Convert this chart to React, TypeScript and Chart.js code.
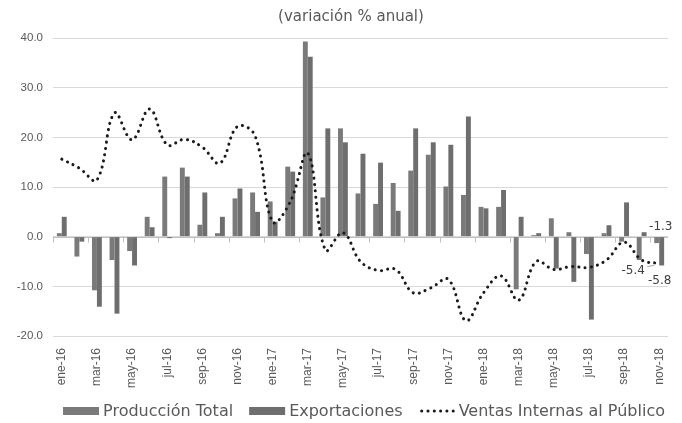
import React, { useEffect, useRef } from 'react';
import { Chart, registerables } from 'chart.js';

Chart.register(...registerables);

const categories = [
  'ene-16', 'feb-16', 'mar-16', 'abr-16', 'may-16', 'jun-16', 'jul-16', 'ago-16', 'sep-16', 'oct-16', 'nov-16', 'dic-16',
  'ene-17', 'feb-17', 'mar-17', 'abr-17', 'may-17', 'jun-17', 'jul-17', 'ago-17', 'sep-17', 'oct-17', 'nov-17', 'dic-17',
  'ene-18', 'feb-18', 'mar-18', 'abr-18', 'may-18', 'jun-18', 'jul-18', 'ago-18', 'sep-18', 'oct-18', 'nov-18',
];

const produccionTotal = [
  0.7, -4.0, -10.8, -4.7, -2.9, 4.0, 12.1, 13.9, 2.4, 0.7, 7.7, 8.9,
  7.1, 14.1, 39.3, 7.9, 21.8, 8.7, 6.6, 10.8, 13.3, 16.5, 10.1, 8.4,
  6.0, 6.0, -10.6, 0.3, 3.7, 0.9, -3.5, 0.7, -1.0, -4.7, -1.3,
];

const exportaciones = [
  4.0, -1.0, -14.1, -15.5, -5.8, 1.9, -0.3, 12.1, 8.9, 4.0, 9.7, 5.0,
  3.0, 13.1, 36.2, 21.8, 19.0, 16.7, 14.9, 5.2, 21.8, 19.0, 18.5, 24.2,
  5.7, 9.4, 4.0, 0.7, -6.4, -9.1, -16.7, 2.3, 6.9, 0.9, -5.8,
];

const ventasInternas = [
  15.6, 13.8, 11.4, 24.9, 19.5, 25.7, 18.5, 19.6, 18.0, 14.8, 22.2, 20.3,
  3.0, 7.0, 16.8, -2.7, 0.8, -5.0, -6.8, -6.6, -11.3, -10.3, -8.6, -16.9,
  -11.3, -7.9, -12.8, -5.0, -6.6, -6.0, -6.2, -4.7, -1.1, -4.7, -5.4,
];

const yMin = -20;
const yMax = 40;
const yStep = 10;

const seriesNames = ['Producción Total', 'Exportaciones', 'Ventas Internas al Público'];
const chartTitle = '(variación % anual)';

// labelled points: [dataset index, category index]
const labelledPoints = [
  [0, 34],
  [2, 34],
  [1, 34],
];

const FONT = '"DejaVu Sans", sans-serif';
const TICK_FONT = '"Liberation Sans", Arial, sans-serif';

const zeroLinePlugin = {
  id: 'zeroLine',
  beforeDatasetsDraw(chart: any) {
    const { ctx, chartArea, scales } = chart;
    const y0 = Math.round(scales.y.getPixelForValue(0)) + 0.5;
    const xs = scales.x;
    const half = (xs.getPixelForValue(1) - xs.getPixelForValue(0)) / 2;
    ctx.save();
    ctx.strokeStyle = '#bfbfbf';
    ctx.lineWidth = 1;
    ctx.beginPath();
    ctx.moveTo(chartArea.left, y0);
    ctx.lineTo(chartArea.right, y0);
    for (let i = 0; i <= categories.length; i += 2) {
      const x = Math.round(xs.getPixelForValue(i) - half) + 0.5;
      ctx.moveTo(x, y0);
      ctx.lineTo(x, y0 + 5);
    }
    ctx.stroke();
    ctx.restore();
  },
};

const titlePlugin = {
  id: 'customTitle',
  afterDraw(chart: any) {
    const { ctx } = chart;
    ctx.save();
    ctx.font = `15px ${FONT}`;
    ctx.fillStyle = '#595959';
    ctx.textAlign = 'center';
    ctx.textBaseline = 'middle';
    ctx.fillText(chartTitle, 351, 17);
    ctx.restore();
  },
};

const legendPlugin = {
  id: 'customLegend',
  afterDraw(chart: any) {
    const { ctx } = chart;
    const datasets = chart.data.datasets;
    ctx.save();
    ctx.font = `16px ${FONT}`;
    const boxW = 36;
    const gapBT = 4;
    const gapItems = 16;
    const widths = datasets.map((d: any) => ctx.measureText(d.label).width);
    const total = widths.reduce((a: number, w: number) => a + boxW + gapBT + w, 0) + gapItems * (datasets.length - 1);
    let x = 364 - total / 2;
    const y = 411;
    datasets.forEach((d: any, i: number) => {
      if (d.type === 'line') {
        ctx.save();
        ctx.strokeStyle = d.borderColor;
        ctx.lineWidth = d.borderWidth;
        ctx.lineCap = 'round';
        ctx.setLineDash(d.borderDash);
        ctx.beginPath();
        ctx.moveTo(x + 3, y);
        ctx.lineTo(x + boxW - 1, y);
        ctx.stroke();
        ctx.restore();
      } else {
        ctx.fillStyle = d.backgroundColor;
        ctx.fillRect(x, y - 4, boxW, 8);
      }
      ctx.fillStyle = '#595959';
      ctx.textAlign = 'left';
      ctx.textBaseline = 'middle';
      ctx.fillText(d.label, x + boxW + gapBT, y + 1);
      x += boxW + gapBT + widths[i] + gapItems;
    });
    ctx.restore();
  },
};

const dataLabelPlugin = {
  id: 'dataLabels',
  afterDatasetsDraw(chart: any) {
    const { ctx } = chart;
    ctx.save();
    ctx.font = `12px ${FONT}`;
    ctx.fillStyle = '#404040';
    ctx.textAlign = 'center';
    ctx.textBaseline = 'middle';
    labelledPoints.forEach(([ds, idx]) => {
      const el = chart.getDatasetMeta(ds).data[idx];
      const value = chart.data.datasets[ds].data[idx] as number;
      const text = value.toFixed(1);
      if (ds === 0) {
        ctx.fillText(text, el.x + 4, el.y - 16);
      } else if (ds === 1) {
        ctx.fillText(text, el.x - 2, el.y + 15);
      } else {
        ctx.fillText(text, el.x - 26, el.y + 7);
        ctx.save();
        ctx.strokeStyle = '#a6a6a6';
        ctx.lineWidth = 1;
        ctx.beginPath();
        ctx.moveTo(el.x - 12, el.y + 3);
        ctx.lineTo(el.x - 5, el.y + 2);
        ctx.stroke();
        ctx.restore();
      }
    });
    ctx.restore();
  },
};

export default function App() {
  const canvasRef = useRef<HTMLCanvasElement | null>(null);

  useEffect(() => {
    if (!canvasRef.current) return;
    const chart = new Chart(canvasRef.current, {
      type: 'bar',
      data: {
        labels: categories,
        datasets: [
          {
            type: 'bar',
            label: seriesNames[0],
            data: produccionTotal,
            backgroundColor: '#7a7a7a',
            categoryPercentage: 0.56,
            barPercentage: 1.0,
            order: 1,
          },
          {
            type: 'bar',
            label: seriesNames[1],
            data: exportaciones,
            backgroundColor: '#6e6e6e',
            categoryPercentage: 0.56,
            barPercentage: 1.0,
            order: 1,
          },
          {
            type: 'line',
            label: seriesNames[2],
            data: ventasInternas,
            borderColor: '#1a1a1a',
            backgroundColor: '#1a1a1a',
            borderWidth: 3,
            borderDash: [0.1, 6.2],
            borderCapStyle: 'round',
            pointRadius: 0,
            tension: 0.4,
            fill: false,
            order: 0,
          } as any,
        ],
      },
      options: {
        animation: false,
        responsive: true,
        maintainAspectRatio: false,
        layout: { padding: { left: 0, right: 14, top: 38, bottom: 0 } },
        plugins: {
          legend: { display: false },
          title: { display: false },
          tooltip: { enabled: false },
        },
        scales: {
          x: {
            grid: { display: false },
            border: { display: false },
            ticks: {
              autoSkip: false,
              minRotation: 90,
              maxRotation: 90,
              padding: 4,
              color: '#595959',
              font: { family: TICK_FONT, size: 12 },
              callback: (_v: any, i: number) => (i % 2 === 0 ? categories[i] : null),
            },
            afterFit: (scale: any) => {
              scale.height = 87;
            },
          },
          y: {
            min: yMin,
            max: yMax,
            grid: { color: '#d9d9d9', lineWidth: 1, drawTicks: false },
            border: { display: false },
            ticks: {
              stepSize: yStep,
              padding: 10,
              color: '#595959',
              font: { family: TICK_FONT, size: 11.5 },
              callback: (v: any) => Number(v).toFixed(1),
            },
            afterFit: (scale: any) => {
              scale.width = 53;
            },
          },
        },
      },
      plugins: [zeroLinePlugin, titlePlugin, legendPlugin, dataLabelPlugin],
    });
    return () => chart.destroy();
  }, []);

  return (
    <div style={{ position: 'fixed', left: 0, top: 0, width: 682, height: 423, background: '#ffffff' }}>
      <canvas ref={canvasRef} />
    </div>
  );
}
